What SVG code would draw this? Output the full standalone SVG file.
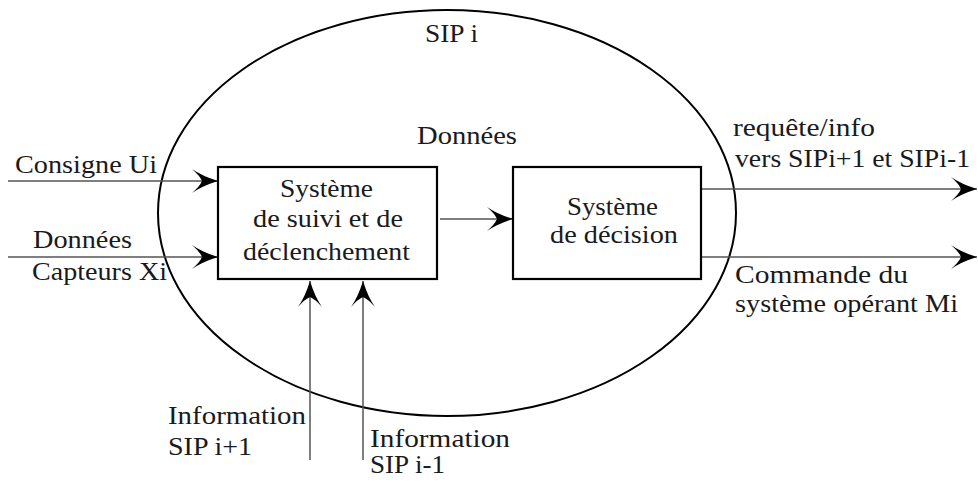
<svg xmlns="http://www.w3.org/2000/svg" width="978" height="483" viewBox="0 0 978 483">
<style>
text { font-family: "Liberation Serif", "Times New Roman", serif; font-size: 25px; fill: #1a1a1a; }
.big { font-size: 26px; }
.box { fill: #fff; stroke: #000; stroke-width: 2.2; }
.conn { stroke: #555; stroke-width: 1.5; fill: none; marker-end: url(#arr); }
.frame { fill: none; stroke: #000; stroke-width: 2; }
</style>
<defs>
<marker id="arr" markerUnits="userSpaceOnUse" orient="auto" markerWidth="30" markerHeight="30" refX="28" refY="13" viewBox="0 0 30 26">
<path d="M28,13 Q12,8 2,1 Q10,8 12,13 Q10,18 2,25 Q12,18 28,13 Z" fill="#000"/>
</marker>
</defs>
<g id="sip-i">
<ellipse class="frame" cx="447" cy="213" rx="289" ry="203"/>
<text x="425" y="42" textLength="53" lengthAdjust="spacingAndGlyphs">SIP i</text>
<text x="417" y="144" textLength="100" lengthAdjust="spacingAndGlyphs">Données</text>
</g>
<g id="connectors">
<line class="conn" x1="8" y1="181" x2="218" y2="181"/>
<line class="conn" x1="8" y1="257" x2="218" y2="257"/>
<line class="conn" x1="440" y1="219" x2="513" y2="219"/>
<line class="conn" x1="702" y1="189" x2="977" y2="189"/>
<line class="conn" x1="702" y1="257" x2="977" y2="257"/>
<line class="conn" x1="310" y1="460" x2="310" y2="281"/>
<line class="conn" x1="363" y1="460" x2="363" y2="281"/>
</g>
<g id="suivi">
<rect class="box" x="218" y="167" width="219" height="112"/>
<text class="big" x="280" y="197" textLength="93" lengthAdjust="spacingAndGlyphs">Système</text>
<text class="big" x="253" y="227" textLength="150" lengthAdjust="spacingAndGlyphs">de suivi et de</text>
<text class="big" x="243" y="260" textLength="167" lengthAdjust="spacingAndGlyphs">déclenchement</text>
</g>
<g id="decision">
<rect class="box" x="513" y="167" width="188" height="112"/>
<text class="big" x="567" y="215" textLength="91" lengthAdjust="spacingAndGlyphs">Système</text>
<text class="big" x="550" y="243" textLength="128" lengthAdjust="spacingAndGlyphs">de décision</text>
</g>
<g id="labels">
<text x="15" y="173" textLength="142" lengthAdjust="spacingAndGlyphs">Consigne Ui</text>
<text x="33" y="248" textLength="99" lengthAdjust="spacingAndGlyphs">Données</text>
<text x="32" y="280" textLength="135" lengthAdjust="spacingAndGlyphs">Capteurs Xi</text>
<text x="733" y="136" textLength="142" lengthAdjust="spacingAndGlyphs">requête/info</text>
<text x="735" y="167" textLength="235" lengthAdjust="spacingAndGlyphs">vers SIPi+1 et SIPi-1</text>
<text x="735" y="283" textLength="173" lengthAdjust="spacingAndGlyphs">Commande du</text>
<text x="735" y="312" textLength="223" lengthAdjust="spacingAndGlyphs">système opérant Mi</text>
<text x="168" y="424" textLength="138" lengthAdjust="spacingAndGlyphs">Information</text>
<text x="168" y="455" textLength="84" lengthAdjust="spacingAndGlyphs">SIP i+1</text>
<text x="370" y="447" textLength="140" lengthAdjust="spacingAndGlyphs">Information</text>
<text x="370" y="473" textLength="75" lengthAdjust="spacingAndGlyphs">SIP i-1</text>
</g>
</svg>
